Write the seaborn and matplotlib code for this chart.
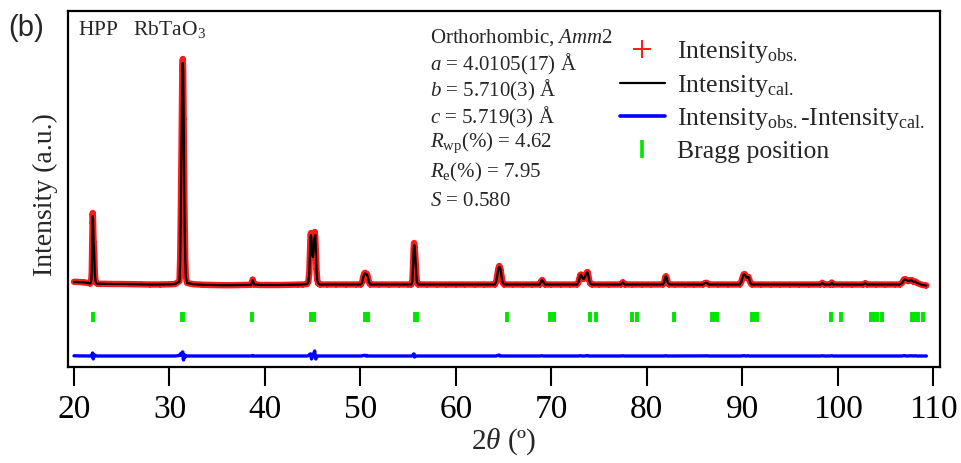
import matplotlib
matplotlib.use("Agg")
import matplotlib.pyplot as plt
import pandas as pd
import seaborn as sns
from matplotlib.lines import Line2D

# ---------------- data ----------------
two_theta = [
    20.0, 20.5, 21.0, 21.5,
    21.70, 21.80, 21.86, 21.90, 21.93, 21.96, 21.99, 22.02, 22.05, 22.08, 22.11, 22.14, 22.18, 22.24, 22.32, 22.45,
    23.0, 24.0, 25.0, 26.0, 27.0, 28.0, 29.0, 30.0, 30.6,
    31.05, 31.12, 31.18, 31.24, 31.30, 31.35, 31.40, 31.44, 31.48, 31.52, 31.56, 31.60, 31.65, 31.72, 31.85,
    32.5, 33.5, 34.5, 35.5, 36.5, 37.5,
    38.55, 38.65, 38.72, 38.80, 38.90,
    39.5, 40.5, 41.5, 42.5, 43.5, 44.0,
    44.40, 44.55, 44.65, 44.72, 44.78, 44.83, 44.88, 44.95, 45.02, 45.10, 45.17, 45.22, 45.28, 45.34, 45.40, 45.48, 45.60, 45.75,
    46.5, 47.5, 48.5, 49.5,
    50.05, 50.20, 50.30, 50.40, 50.50, 50.60, 50.70, 50.80, 50.90, 51.05,
    52.0, 53.0, 54.0, 55.0,
    55.35, 55.45, 55.52, 55.58, 55.63, 55.68, 55.72, 55.76, 55.80, 55.86, 55.93, 56.05,
    57.0, 58.0, 59.0, 60.0, 61.0, 62.0, 63.0,
    64.10, 64.25, 64.35, 64.45, 64.55, 64.62, 64.70, 64.80, 64.92, 65.05,
    66.0, 67.0, 68.0,
    68.80, 68.95, 69.05, 69.20, 69.35,
    70.0, 71.0, 72.0,
    72.70, 72.85, 72.95, 73.05, 73.12, 73.22, 73.35, 73.47, 73.60, 73.72, 73.80, 73.88, 73.98, 74.10, 74.25,
    75.0, 76.0,
    77.30, 77.50, 77.70,
    78.5, 79.5, 80.5,
    81.70, 81.85, 81.95, 82.02, 82.10, 82.20, 82.35,
    83.0, 84.0, 85.0,
    85.90, 86.10, 86.30, 86.50,
    87.5, 88.5,
    89.75, 89.90, 90.05, 90.15, 90.25, 90.35, 90.45, 90.55, 90.65, 90.75, 90.88, 91.00,
    92.0, 93.0, 94.0, 95.0, 96.0, 97.0,
    98.20, 98.40, 98.60, 99.25, 99.40, 99.55,
    100.5, 101.5,
    102.70, 102.90, 103.10,
    104.0, 105.0, 106.0,
    106.50, 106.75, 106.95, 107.07, 107.20, 107.40, 107.60, 107.77, 107.95, 108.15, 108.35, 108.60, 108.90, 109.20, 109.30,
]

i_obs = [
    172, 170, 166, 160,
    155, 175, 270, 520, 760, 860, 800, 660, 570, 520, 470, 380, 260, 190, 162, 152,
    152, 150, 150, 148, 146, 145, 145, 147, 150,
    180, 400, 800, 1300, 1900, 2300, 2400, 2250, 1800, 1400, 1000, 700, 400, 220, 160,
    148, 142, 140, 138, 138, 140,
    142, 170, 195, 168, 145,
    140, 140, 140, 142, 143, 145,
    150, 170, 260, 480, 640, 660, 560, 450, 430, 520, 640, 670, 620, 450, 300, 190, 155, 145,
    145, 145, 145, 145,
    145, 170, 220, 255, 262, 245, 250, 215, 170, 145,
    145, 145, 145, 145,
    145, 180, 330, 500, 560, 520, 470, 420, 350, 240, 170, 145,
    145, 145, 145, 145, 145, 145, 145,
    145, 180, 240, 300, 330, 320, 290, 220, 165, 145,
    145, 145, 145,
    145, 180, 190, 165, 145,
    145, 145, 145,
    145, 165, 205, 240, 245, 225, 200, 205, 240, 265, 270, 240, 185, 155, 145,
    145, 145,
    145, 168, 145,
    145, 145, 145,
    145, 170, 220, 228, 205, 165, 145,
    145, 145, 145,
    145, 160, 162, 145,
    145, 145,
    145, 170, 215, 245, 250, 235, 215, 220, 222, 195, 160, 145,
    145, 145, 145, 145, 145, 145,
    145, 162, 145, 145, 165, 145,
    145, 145,
    145, 158, 145,
    145, 145, 145,
    145, 160, 195, 200, 190, 178, 188, 188, 172, 175, 160, 150, 140, 136, 135,
]

i_cal = [
    170, 169, 166, 160,
    155, 172, 260, 500, 740, 830, 810, 690, 560, 520, 460, 370, 260, 185, 160, 152,
    152, 150, 150, 148, 146, 145, 145, 147, 150,
    175, 380, 780, 1290, 1870, 2260, 2360, 2280, 1840, 1400, 990, 690, 410, 220, 160,
    148, 142, 140, 138, 138, 140,
    142, 168, 190, 168, 145,
    140, 140, 140, 142, 143, 145,
    150, 168, 250, 460, 620, 640, 590, 440, 420, 500, 600, 620, 640, 480, 310, 190, 155, 145,
    145, 145, 145, 145,
    145, 168, 215, 250, 255, 245, 245, 215, 170, 145,
    145, 145, 145, 145,
    145, 178, 320, 480, 540, 530, 470, 420, 350, 240, 170, 145,
    145, 145, 145, 145, 145, 145, 145,
    145, 180, 235, 295, 320, 320, 290, 220, 165, 145,
    145, 145, 145,
    145, 178, 188, 165, 145,
    145, 145, 145,
    145, 165, 203, 238, 243, 225, 200, 205, 238, 262, 266, 240, 185, 155, 145,
    145, 145,
    145, 166, 145,
    145, 145, 145,
    145, 170, 218, 225, 205, 165, 145,
    145, 145, 145,
    145, 159, 160, 145,
    145, 145,
    145, 170, 213, 243, 247, 235, 215, 218, 220, 195, 160, 145,
    145, 145, 145, 145, 145, 145,
    145, 160, 145, 145, 162, 145,
    145, 145,
    145, 157, 145,
    145, 145, 145,
    145, 160, 192, 197, 190, 178, 186, 186, 172, 173, 160, 150, 140, 136, 135,
]

bragg_pos = [
    22.02, 31.30, 31.40, 38.68, 44.78, 45.18, 50.52, 50.82, 55.68, 55.98,
    65.34, 69.85, 70.25, 74.07, 74.69, 78.50, 79.02, 82.87,
    86.85, 87.10, 87.35, 91.05, 91.30, 91.55, 99.32, 100.37,
    103.50, 103.80, 104.10, 104.70, 107.80, 108.10, 108.40, 109.00,
]

x_ticks = [20, 30, 40, 50, 60, 70, 80, 90, 100, 110]

legend_labels = [
    r"Intensity$_{\mathrm{obs.}}$",
    r"Intensity$_{\mathrm{cal.}}$",
    r"Intensity$_{\mathrm{obs.}}$-Intensity$_{\mathrm{cal.}}$",
    "Bragg position",
]

info_lines = [
    r"Orthorhombic, $Amm$2",
    r"$a$ = 4.0105(17) Å",
    r"$b$ = 5.710(3) Å",
    r"$c$ = 5.719(3) Å",
    r"$R_{\mathrm{wp}}$(%) = 4.62",
    r"$R_{\mathrm{e}}$(%) = 7.95",
    r"$S$ = 0.580",
]

# ---------------- style ----------------
sns.set_theme(style="white")
plt.rcParams["font.family"] = ["Liberation Serif", "DejaVu Serif"]
plt.rcParams["mathtext.fontset"] = "custom"
plt.rcParams["mathtext.rm"] = "Liberation Serif"
plt.rcParams["mathtext.it"] = "Liberation Serif:italic"
plt.rcParams["mathtext.bf"] = "Liberation Serif:bold"

RED = "#ff1a1a"
GREEN = "#00e600"
DIFF_OFFSET = -570
BRAGG_LO, BRAGG_HI = -230, -130

W, H = 962, 463
fig = plt.figure(figsize=(W / 100, H / 100), dpi=100)
ax = fig.add_axes([68 / W, 1 - 367 / H, (940 - 68) / W, (367 - 11) / H])

df = pd.DataFrame({"two_theta": two_theta, "obs": i_obs, "cal": i_cal})
df["diff"] = df["obs"] - df["cal"] + DIFF_OFFSET

sns.lineplot(data=df, x="two_theta", y="obs", color=RED, lw=4.6, ax=ax,
             estimator=None, sort=False)
sns.scatterplot(data=df, x="two_theta", y="obs", marker="+", s=22, color=RED,
                linewidth=1.3, ax=ax, zorder=3)
sns.lineplot(data=df, x="two_theta", y="cal", color="black", lw=1.6, ax=ax,
             estimator=None, sort=False, zorder=4)
sns.lineplot(data=df, x="two_theta", y="diff", color="#0000ff", lw=2.4, ax=ax,
             estimator=None, sort=False)
ax.vlines(bragg_pos, BRAGG_LO, BRAGG_HI, color=GREEN, lw=2.8)

ax.set_xlim(19.37, 110.73)
ax.set_ylim(-680, 2880)
ax.set_xticks(x_ticks)
ax.set_xticklabels([str(t) for t in x_ticks])
ax.set_yticks([])
ax.tick_params(axis="x", direction="out", length=14, width=1.5, labelsize=24,
               pad=6, bottom=True, top=False, colors="black")
for sp in ax.spines.values():
    sp.set_linewidth(1.6)
    sp.set_color("black")

ax.set_xlabel(r"2$\it{\theta}$ (º)", fontsize=21)
ax.xaxis.set_label_coords(0.5, (367 - 442) / 356)
ax.xaxis.label.set_va("center")
ax.set_ylabel("Intensity (a.u.)", fontsize=20)
ax.yaxis.set_label_coords((45 - 68) / 872, (367 - 195) / 356)
ax.yaxis.label.set_va("center")

# panel label and sample name
fig.text(8 / W, 1 - 28 / H, "(b)", fontsize=21, family="Liberation Sans",
         ha="left", va="center")
fig.text(78 / W, 1 - 29 / H, r"HPP   RbTaO$_3$", fontsize=15.5,
         ha="left", va="center")

# refinement info
info_y = [38, 64, 90, 117, 143, 172, 202]
for txt, yy in zip(info_lines, info_y):
    fig.text(430 / W, 1 - yy / H, txt, fontsize=15, ha="left", va="center")

handles = [
    Line2D([], [], ls="none", marker="+", color=RED, markersize=13, mew=1.4),
    Line2D([], [], color="black", lw=1.6),
    Line2D([], [], color="#0000ff", lw=2.6),
    Line2D([], [], ls="none", marker="|", color=GREEN, markersize=13, mew=2.6),
]
fig.legend(handles, legend_labels, loc="upper left",
           bbox_to_anchor=(620 / W, 1 - 39 / H), frameon=False, fontsize=18.5,
           handlelength=1.75, handletextpad=0.45, labelspacing=0.3,
           borderpad=0, borderaxespad=0)

fig.savefig("out.png", dpi=100)
